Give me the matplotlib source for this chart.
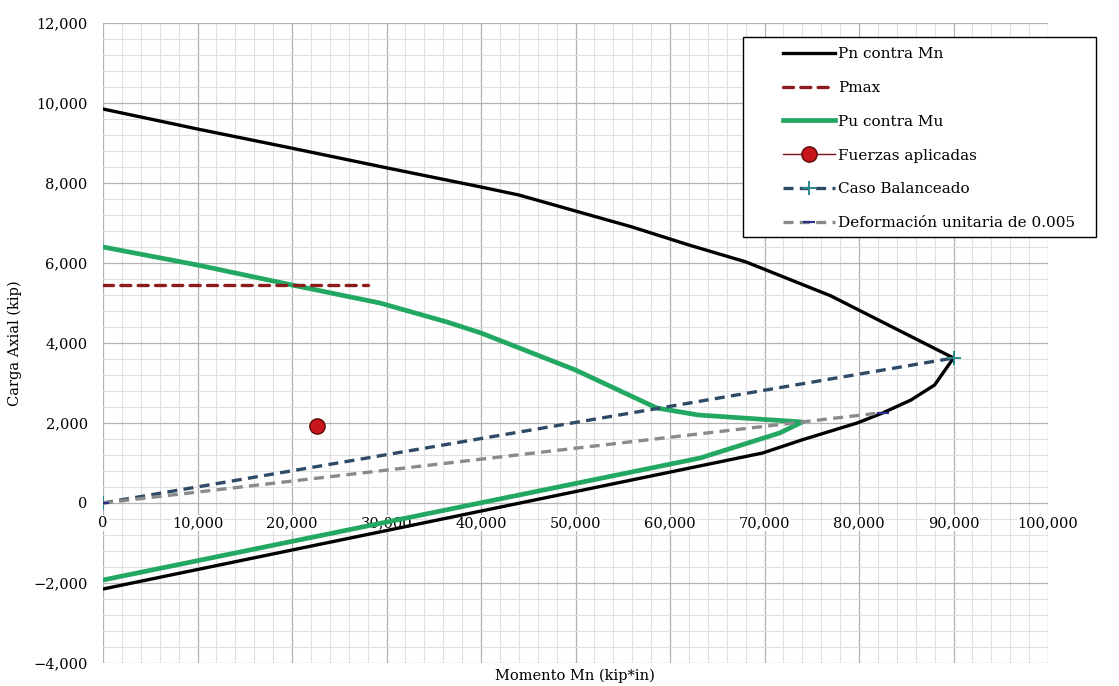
import matplotlib
matplotlib.use("Agg")
import matplotlib.pyplot as plt
from matplotlib.patches import Rectangle
from matplotlib.ticker import MultipleLocator, FuncFormatter, NullFormatter
from matplotlib.transforms import offset_copy

# Nominal interaction curve (Pn vs Mn)
mn_nominal = [0, 10000, 20000, 30000, 40000, 44000, 50000, 56000, 62000, 68000,
              77000, 90000, 88000, 85500, 82500, 79800, 74000, 69800, 0]
pn_nominal = [9850, 9350, 8870, 8380, 7900, 7700, 7300, 6900, 6450, 6030,
              5180, 3625, 2950, 2575, 2250, 2000, 1580, 1250, -2150]

# Design interaction curve (Pu vs Mu)
mu_design = [0, 10000, 20000, 29300, 36400, 40000, 50000, 58600, 63000, 74000,
             71600, 63200, 0]
pu_design = [6400, 5950, 5450, 5000, 4525, 4250, 3325, 2375, 2200, 2025,
             1750, 1125, -1925]

# Maximum axial load
pmax_m = [0, 28000]
pmax_p = [5440, 5440]

# Applied forces
applied_m = [22600]
applied_p = [1925]

# Balanced case
balanced_m = [0, 90000]
balanced_p = [0, 3625]

# Tensile strain of 0.005
strain_m = [0, 82500]
strain_p = [0, 2260]

labels = ["Pn contra Mn", "Pmax", "Pu contra Mu", "Fuerzas aplicadas",
          "Caso Balanceado", "Deformación unitaria de 0.005"]

plt.rcParams['font.family'] = ['DejaVu Serif']

W, H = 1119, 686
fig = plt.figure(figsize=(W / 100, H / 100), dpi=100)
ax = fig.add_axes([103 / W, 1 - 663 / H, (1048 - 103) / W, (663 - 23) / H])

ax.set_xlim(0, 100000)
ax.set_ylim(-4000, 12000)
ax.xaxis.set_major_locator(MultipleLocator(10000))
ax.xaxis.set_minor_locator(MultipleLocator(2000))
ax.yaxis.set_major_locator(MultipleLocator(2000))
ax.yaxis.set_minor_locator(MultipleLocator(400))

fmt = FuncFormatter(lambda v, p: f"{v:,.0f}".replace("-", "\u2212"))
ax.xaxis.set_major_formatter(NullFormatter())
ax.yaxis.set_major_formatter(fmt)

ax.grid(which='major', color='#b2b2b2', linewidth=0.9, zorder=0)
ax.grid(which='minor', color='#e0e0e0', linewidth=0.8, zorder=0)
ax.set_axisbelow(True)

for side in ['top', 'right', 'left', 'bottom']:
    ax.spines[side].set_visible(False)
ax.tick_params(which='both', length=0)
ax.tick_params(axis='y', pad=11, labelsize=10.5)

ax.plot(mn_nominal, pn_nominal, color='black', lw=2.4, label=labels[0],
        solid_joinstyle='round', zorder=4)
ax.plot(pmax_m, pmax_p, color='#8e1b1b', lw=2.4, dashes=(3, 2.2),
        dash_capstyle='round', label=labels[1], zorder=4)
ax.plot(mu_design, pu_design, color='#22a862', lw=3.4, label=labels[2],
        solid_joinstyle='round', zorder=3)
ax.plot(applied_m, applied_p, color='#7a1414', lw=1.0, marker='o',
        markersize=11, markerfacecolor='#c8161d', markeredgecolor='#5c0a0a',
        markeredgewidth=1.0, label=labels[3], zorder=6)
ax.plot(balanced_m, balanced_p, color='#2f4a66', lw=2.4, dashes=(3, 1.9),
        marker='+', markersize=10, markeredgecolor='#2a8a8a',
        markeredgewidth=1.4, label=labels[4], zorder=5)
ax.plot(strain_m, strain_p, color='#8a8a8a', lw=2.4, dashes=(3, 1.9),
        marker='_', markersize=8, markeredgecolor='#2b2d8c',
        markeredgewidth=1.6, label=labels[5], zorder=5)

# Horizontal-axis labels sit just below the zero load line, over the grid
below_zero = offset_copy(ax.transData, fig=fig, x=0, y=-20, units='dots')
for xv in ax.get_xticks():
    if 0 <= xv <= 100000:
        ax.text(xv, 0, fmt(xv, None), transform=below_zero, ha='center',
                va='center', fontsize=10.5, zorder=2,
                bbox=dict(facecolor='white', edgecolor='none', pad=0.6))

fig.text(15 / W, 0.5, "Carga Axial (kip)", rotation=90, ha='center',
         va='center', fontsize=10.5)
fig.text(575 / W, 1 - 676 / H, "Momento Mn (kip*in)", ha='center',
         va='center', fontsize=10.5)

# Legend box
box = Rectangle((743 / W, 1 - 237 / H), (1096 - 743) / W, 200 / H,
                transform=fig.transFigure, facecolor='white',
                edgecolor='black', linewidth=1.0, zorder=3)
fig.patches.append(box)

handles, labs = ax.get_legend_handles_labels()
fig.legend(handles, labs, loc='upper left',
           bbox_to_anchor=(783 / W, 1 - 47 / H), frameon=False,
           fontsize=11, handlelength=3.4, handletextpad=0.2,
           labelspacing=1.3, borderpad=0, borderaxespad=0, numpoints=1)

fig.savefig("out.png", dpi=100, facecolor='white')
